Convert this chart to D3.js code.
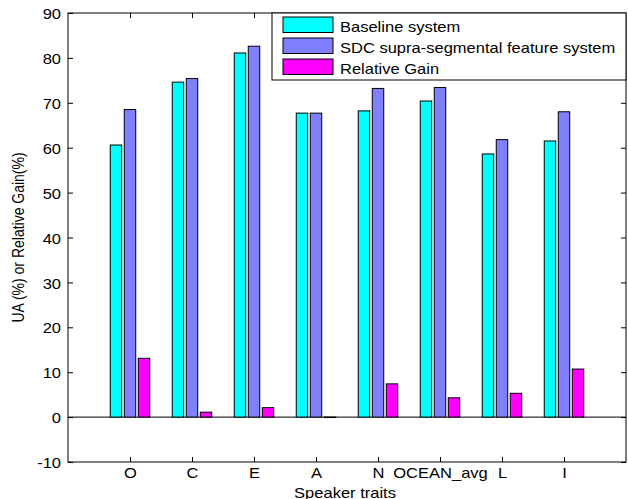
<!DOCTYPE html>
<html>
<head>
<meta charset="utf-8">
<script src="https://cdn.jsdelivr.net/npm/d3@7"></script>
<style>
  body { margin: 0; background: #fff; }
  svg text { font-family: Arial, "Liberation Sans", sans-serif; font-size: 14px; fill: #000; }
</style>
</head>
<body>
<script>
// data
var categories = ["O", "C", "E", "A", "N", "OCEAN_avg", "L", "I"];
var baseline = [60.6, 74.6, 81.1, 67.7, 68.2, 70.4, 58.6, 61.5];
var sdc = [68.5, 75.4, 82.6, 67.7, 73.2, 73.4, 61.8, 68.0];
var gain = [13.1, 1.1, 2.1, -0.1, 7.4, 4.3, 5.3, 10.7];
var seriesNames = ["Baseline system", "SDC supra-segmental feature system", "Relative Gain"];
var colors = ["#00ffff", "#8080ff", "#ff00ff"];
var yTicks = [-10, 0, 10, 20, 30, 40, 50, 60, 70, 80, 90];

var W = 628, H = 499;
// plot box edges (note: "top" is taken by window.top)
var axLeft = 68, axRight = 626, axTop = 13, axBottom = 462;
var sx = 1.18; // text in the picture is a bit wide

var svg = d3.select("body").append("svg")
    .attr("width", W)
    .attr("height", H);

var x = d3.scaleLinear().domain([0, categories.length + 1]).range([axLeft, axRight]);
var y = d3.scaleLinear().domain([-10, 90]).range([axBottom, axTop]);

var step = x(1) - x(0);
var barW = step * 0.185;
var offs = [-step * 0.226, 0, step * 0.226];

// zero baseline
svg.append("line")
    .attr("x1", axLeft).attr("x2", axRight)
    .attr("y1", y(0)).attr("y2", y(0))
    .attr("stroke", "#000");

// bars
var series = [baseline, sdc, gain];
series.forEach(function(vals, s) {
    svg.append("g").selectAll("rect")
        .data(vals)
        .enter()
        .append("rect")
        .attr("x", function(d, i) { return x(i + 1) + offs[s] - barW / 2; })
        .attr("y", function(d) { return y(Math.max(d, 0)); })
        .attr("width", barW)
        .attr("height", function(d) { return Math.abs(y(d) - y(0)); })
        .attr("fill", colors[s])
        .attr("stroke", "#000")
        .attr("stroke-width", 1);
});

function stretch(sel) {
    sel.selectAll("text")
        .attr("x", function() { return (+this.getAttribute("x") || 0) / sx; })
        .attr("transform", "scale(" + sx + ",1)");
}

var tickPos = d3.range(1, categories.length + 1);

// plain hyphen for negatives, like the original
var yAxis = svg.append("g")
    .attr("transform", "translate(" + axLeft + ",0)")
    .call(d3.axisLeft(y).tickValues(yTicks).tickSizeInner(-5).tickSizeOuter(0).tickPadding(7)
        .tickFormat(function(d) { return String(d); }));
yAxis.selectAll("text").attr("dy", "0.4em");
stretch(yAxis);

svg.append("g")
    .attr("transform", "translate(" + axRight + ",0)")
    .call(d3.axisRight(y).tickValues(yTicks).tickSizeInner(-5).tickSizeOuter(0).tickFormat(""));

var xAxis = svg.append("g")
    .attr("transform", "translate(0," + axBottom + ")")
    .call(d3.axisBottom(x).tickValues(tickPos).tickSizeInner(-5).tickSizeOuter(0).tickPadding(6)
        .tickFormat(function(d) { return categories[d - 1]; }));
stretch(xAxis);

svg.append("g")
    .attr("transform", "translate(0," + axTop + ")")
    .call(d3.axisTop(x).tickValues(tickPos).tickSizeInner(-5).tickSizeOuter(0).tickFormat(""));

svg.selectAll(".domain").remove();
svg.selectAll(".tick line").attr("stroke", "#000");
svg.selectAll("g[font-size]").attr("font-size", null).attr("font-family", null);

// axes box
svg.append("rect")
    .attr("x", axLeft).attr("y", axTop)
    .attr("width", axRight - axLeft).attr("height", axBottom - axTop)
    .attr("fill", "none")
    .attr("stroke", "#000");

// axis labels
svg.append("text")
    .attr("transform", "translate(345,498) scale(" + sx + ",1)")
    .attr("text-anchor", "middle")
    .text("Speaker traits");

svg.append("text")
    .attr("transform", "translate(24,237.5) scale(" + sx + ",1) rotate(-90)")
    .attr("text-anchor", "middle")
    .text("UA (%) or Relative Gain(%)");

// legend
var legend = svg.append("g");
legend.append("rect")
    .attr("x", 272).attr("y", axTop)
    .attr("width", axRight - 272).attr("height", 67)
    .attr("fill", "#fff")
    .attr("stroke", "#000");

seriesNames.forEach(function(name, i) {
    legend.append("rect")
        .attr("x", 283).attr("y", 17 + i * 21)
        .attr("width", 50).attr("height", 15.5)
        .attr("fill", colors[i])
        .attr("stroke", "#000");
    legend.append("text")
        .attr("transform", "translate(340," + (31.7 + i * 21) + ") scale(" + sx + ",1)")
        .text(name);
});
</script>
</body>
</html>
